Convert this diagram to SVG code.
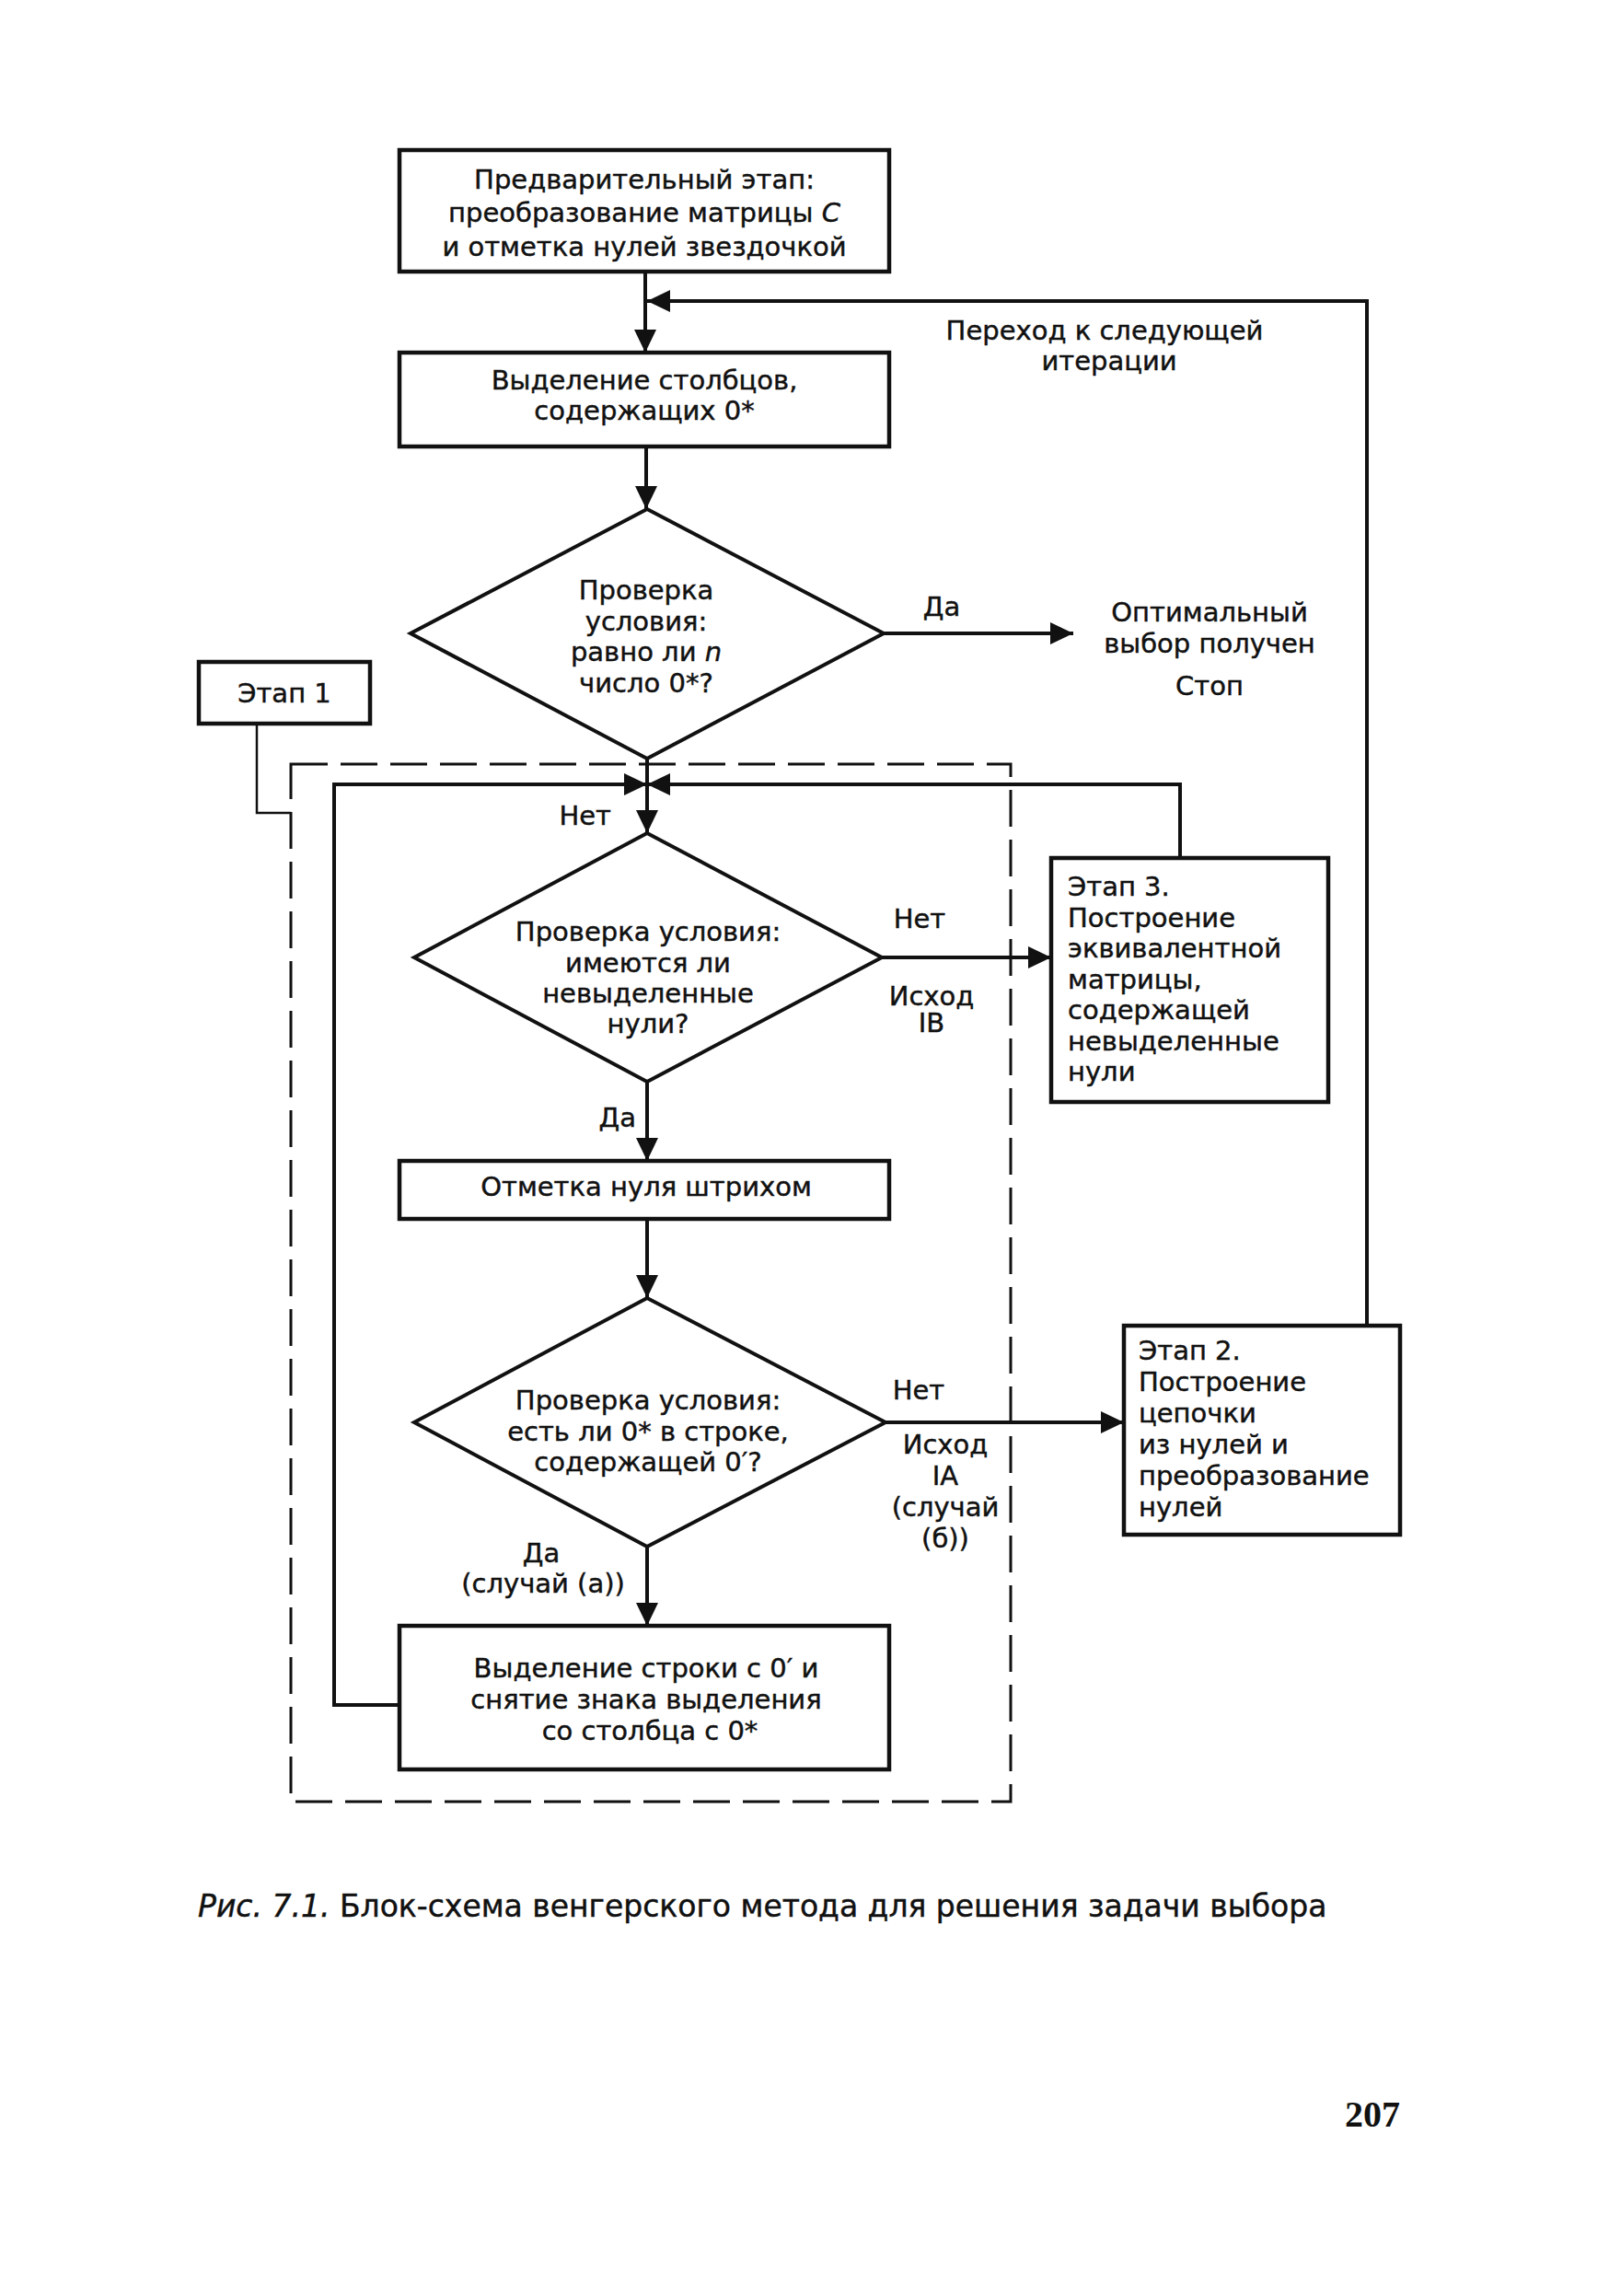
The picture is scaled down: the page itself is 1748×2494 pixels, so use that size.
<svg xmlns="http://www.w3.org/2000/svg" width="1748" height="2494" viewBox="0 0 1748 2494">
<defs>
<style>
.box{fill:none;stroke:#111;stroke-width:4.5}
.dia{fill:none;stroke:#111;stroke-width:4;stroke-linejoin:miter}
.ln{fill:none;stroke:#111;stroke-width:4}
.thin{fill:none;stroke:#111;stroke-width:2.5}
.dash{fill:none;stroke:#111;stroke-width:3;stroke-dasharray:40 14}
text{font-family:"DejaVu Sans","Liberation Sans",Arial,sans-serif;font-size:29px;fill:#111;stroke:#111;stroke-width:0.45}
.c{text-anchor:middle}
.e{text-anchor:end}
.i{font-style:italic}
.cap{font-size:33px}
.pg{font-family:"Liberation Serif","Times New Roman",serif;font-weight:bold;font-size:40px;stroke-width:0}
</style>
<marker id="ah" markerUnits="userSpaceOnUse" markerWidth="28" markerHeight="26" refX="25" refY="12" orient="auto">
<path d="M0,0 L25,12 L0,24 z" fill="#111"/>
</marker>
</defs>
<rect width="1748" height="2494" fill="#fff"/>

<g id="frame-stage1">
<rect class="dash" x="316" y="830" width="782" height="1127"/>
</g>

<g id="connectors">
<path class="ln" d="M701,295 V383" marker-end="url(#ah)"/>
<path class="ln" d="M702,485 V553" marker-end="url(#ah)"/>
<path class="ln" d="M960,688 H1166" marker-end="url(#ah)"/>
<path class="ln" d="M703,824 V905" marker-end="url(#ah)"/>
<path class="ln" d="M434,1852 H363 V852 H703" marker-end="url(#ah)"/>
<path class="ln" d="M1282,932 V852 H703" marker-end="url(#ah)"/>
<path class="ln" d="M958,1040 H1142" marker-end="url(#ah)"/>
<path class="ln" d="M703,1175 V1261" marker-end="url(#ah)"/>
<path class="ln" d="M703,1324 V1410" marker-end="url(#ah)"/>
<path class="ln" d="M962,1545 H1221" marker-end="url(#ah)"/>
<path class="ln" d="M703,1680 V1766" marker-end="url(#ah)"/>
<path class="ln" d="M1485,1440 V327 H703" marker-end="url(#ah)"/>
<path class="thin" d="M279,786 V883 H316"/>
<text x="1200" y="369" class="c">Переход к следующей</text>
<text x="1205" y="402" class="c">итерации</text>
<text x="1023" y="669" class="c">Да</text>
<text x="664" y="896" class="e">Нет</text>
<text x="999" y="1008" class="c">Нет</text>
<text x="1012" y="1092" class="c">Исход</text>
<text x="1012" y="1121" class="c">IB</text>
<text x="691" y="1224" class="e">Да</text>
<text x="998" y="1520" class="c">Нет</text>
<text x="1027" y="1579" class="c">Исход</text>
<text x="1027" y="1613" class="c">IA</text>
<text x="1027" y="1647" class="c">(случай</text>
<text x="1027" y="1681" class="c">(б))</text>
<text x="588" y="1697" class="c">Да</text>
<text x="590" y="1730" class="c">(случай (а))</text>
</g>

<g id="n-prelim">
<rect class="box" x="434" y="163" width="532" height="132"/>
<text x="700" y="205" class="c">Предварительный этап:</text>
<text x="700" y="241" class="c">преобразование матрицы <tspan class="i">C</tspan></text>
<text x="700" y="278" class="c">и отметка нулей звездочкой</text>
</g>

<g id="n-select-cols">
<rect class="box" x="434" y="383" width="532" height="102"/>
<text x="700" y="423" class="c">Выделение столбцов,</text>
<text x="700" y="456" class="c">содержащих 0*</text>
</g>

<g id="d-check-n">
<polygon class="dia" points="703,553 960,688 703,824 446,688"/>
<text x="702" y="651" class="c">Проверка</text>
<text x="702" y="685" class="c">условия:</text>
<text x="702" y="718" class="c">равно ли <tspan class="i">n</tspan></text>
<text x="702" y="752" class="c">число 0*?</text>
</g>

<g id="n-optimal">
<text x="1314" y="675" class="c">Оптимальный</text>
<text x="1314" y="709" class="c">выбор получен</text>
<text x="1314" y="755" class="c">Стоп</text>
</g>

<g id="n-etap1">
<rect class="box" x="216" y="719" width="186" height="67"/>
<text x="309" y="763" class="c">Этап 1</text>
</g>

<g id="d-unmarked">
<polygon class="dia" points="703,905 958,1040 703,1175 450,1040"/>
<text x="704" y="1022" class="c">Проверка условия:</text>
<text x="704" y="1056" class="c">имеются ли</text>
<text x="704" y="1089" class="c">невыделенные</text>
<text x="704" y="1122" class="c">нули?</text>
</g>

<g id="n-etap3">
<rect class="box" x="1142" y="932" width="301" height="265"/>
<text x="1160" y="973">Этап 3.</text>
<text x="1160" y="1007">Построение</text>
<text x="1160" y="1040">эквивалентной</text>
<text x="1160" y="1074">матрицы,</text>
<text x="1160" y="1107">содержащей</text>
<text x="1160" y="1141">невыделенные</text>
<text x="1160" y="1174">нули</text>
</g>

<g id="n-mark-prime">
<rect class="box" x="434" y="1261" width="532" height="63"/>
<text x="702" y="1299" class="c">Отметка нуля штрихом</text>
</g>

<g id="d-row-star">
<polygon class="dia" points="703,1410 962,1545 703,1680 450,1545"/>
<text x="704" y="1531" class="c">Проверка условия:</text>
<text x="704" y="1565" class="c">есть ли 0* в строке,</text>
<text x="704" y="1598" class="c">содержащей 0′?</text>
</g>

<g id="n-etap2">
<rect class="box" x="1221" y="1440" width="300" height="227"/>
<text x="1237" y="1477">Этап 2.</text>
<text x="1237" y="1511">Построение</text>
<text x="1237" y="1545">цепочки</text>
<text x="1237" y="1579">из нулей и</text>
<text x="1237" y="1613">преобразование</text>
<text x="1237" y="1647">нулей</text>
</g>

<g id="n-select-row">
<rect class="box" x="434" y="1766" width="532" height="156"/>
<text x="702" y="1822" class="c">Выделение строки с 0′ и</text>
<text x="702" y="1856" class="c">снятие знака выделения</text>
<text x="706" y="1890" class="c">со столбца с 0*</text>
</g>

<g id="caption">
<text x="215" y="2082" class="cap"><tspan class="i">Рис. 7.1.</tspan> Блок-схема венгерского метода для решения задачи выбора</text>
<text x="1461" y="2310" class="pg">207</text>
</g>
</svg>
